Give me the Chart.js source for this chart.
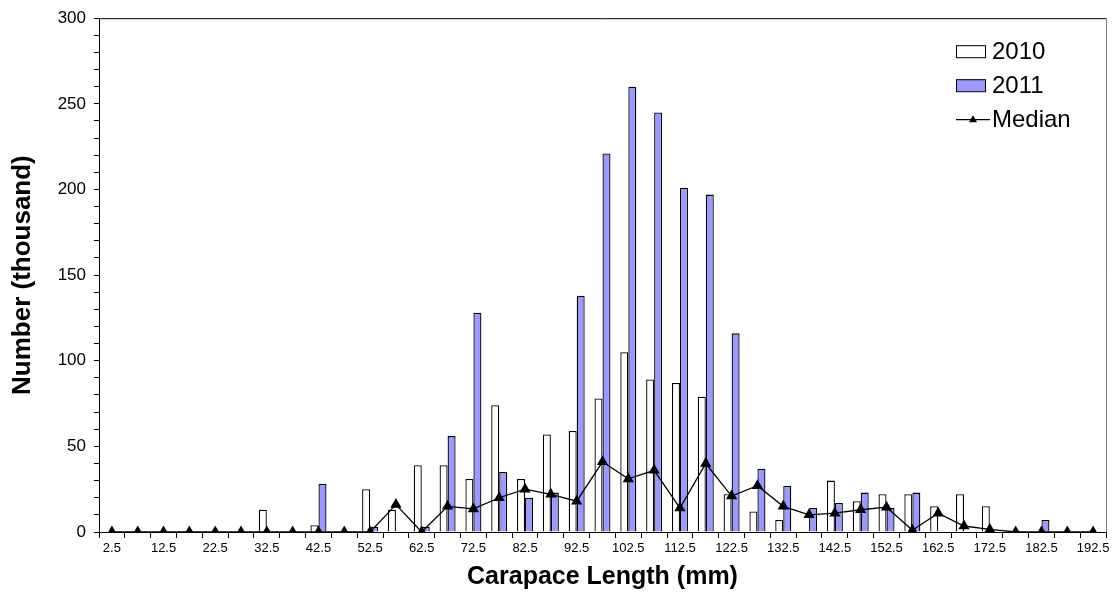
<!DOCTYPE html>
<html>
<head>
<meta charset="utf-8">
<script src="https://cdn.jsdelivr.net/npm/chart.js@4"></script>
<style>
  html, body { margin: 0; padding: 0; background: #fff; }
  #wrap { width: 1120px; height: 602px; position: relative; }
  canvas { display: block; }
</style>
</head>
<body>
<div id="wrap"><canvas id="chart" width="1120" height="602"></canvas></div>
<script>
// carapace length classes (mm)
const lengths = ['2.5','7.5','12.5','17.5','22.5','27.5','32.5','37.5','42.5','47.5',
  '52.5','57.5','62.5','67.5','72.5','77.5','82.5','87.5','92.5','97.5',
  '102.5','107.5','112.5','117.5','122.5','127.5','132.5','137.5','142.5','147.5',
  '152.5','157.5','162.5','167.5','172.5','177.5','182.5','187.5','192.5'];

// numbers in thousands
const counts2010 = [0,0,0,0,0,0,13,0,4,0,
  25,13,39,39,31,74,31,57,59,78,
  105,89,87,79,22,12,7,0,30,18,
  22,22,15,22,15,0,0,0,0];

const counts2011 = [0,0,0,0,0,0,0,0,28,0,
  3,0,3,56,128,35,20,23,138,221,
  260,245,201,197,116,37,27,14,17,23,
  14,23,0,0,0,0,7,0,0];

const median = [0,0,0,0,0,0,0,0,0,0,
  0,16,0,15,13.5,20,25,22,18,41,
  31,36,14,40,21,27,15,10,11,13,
  14.5,1,11,3.5,1.5,0,0,0,0];

const yTicks = [0, 50, 100, 150, 200, 250, 300];

const font = 'Liberation Sans, Arial, sans-serif';

// plot frame (top + right edges)
const framePlugin = {
  id: 'frame',
  afterDraw(chart) {
    const { ctx, chartArea: a } = chart;
    ctx.save();
    ctx.lineWidth = 1;
    ctx.strokeStyle = '#000';
    ctx.beginPath();
    ctx.moveTo(a.left, a.top + 0.5);
    ctx.lineTo(a.right, a.top + 0.5);
    ctx.stroke();
    ctx.strokeStyle = '#808080';
    ctx.beginPath();
    ctx.moveTo(a.right + 0.5, a.top);
    ctx.lineTo(a.right + 0.5, a.bottom);
    ctx.stroke();
    ctx.restore();
  }
};

// legend inside plot, top right
const insideLegend = {
  id: 'insideLegend',
  afterDraw(chart) {
    const { ctx, chartArea: a } = chart;
    const ds = chart.data.datasets;
    const order = [1, 2, 0]; // 2010, 2011, Median
    const x0 = a.right - 150;
    ctx.save();
    ctx.font = '24px ' + font;
    ctx.textBaseline = 'middle';
    ctx.fillStyle = '#000';
    order.forEach((idx, k) => {
      const d = ds[idx];
      const cy = a.top + 33 + k * 34;
      if (d.type === 'line') {
        ctx.strokeStyle = '#000';
        ctx.lineWidth = 1.2;
        ctx.beginPath();
        ctx.moveTo(x0, cy + 0.5);
        ctx.lineTo(x0 + 34, cy + 0.5);
        ctx.stroke();
        ctx.beginPath();
        ctx.moveTo(x0 + 17, cy - 4);
        ctx.lineTo(x0 + 21, cy + 3);
        ctx.lineTo(x0 + 13, cy + 3);
        ctx.closePath();
        ctx.fill();
      } else {
        ctx.fillStyle = d.backgroundColor;
        ctx.fillRect(x0, cy - 6, 30, 12);
        ctx.strokeStyle = '#000';
        ctx.lineWidth = 1;
        ctx.strokeRect(x0 + 0.5, cy - 5.5, 29, 12);
        ctx.fillStyle = '#000';
      }
      ctx.fillText(d.label, x0 + 36, cy + 1);
    });
    ctx.restore();
  }
};

new Chart(document.getElementById('chart'), {
  type: 'bar',
  data: {
    labels: lengths,
    datasets: [
      {
        type: 'line',
        label: 'Median',
        data: median,
        borderColor: '#000',
        borderWidth: 1.3,
        pointStyle: 'triangle',
        pointRadius: 6.5,
        pointBackgroundColor: '#000',
        pointBorderColor: '#000',
        pointBorderWidth: 0,
        tension: 0,
        order: 0
      },
      {
        label: '2010',
        data: counts2010,
        backgroundColor: '#ffffff',
        borderColor: '#000',
        borderWidth: 1.3,
        barPercentage: 1,
        categoryPercentage: 0.62,
        order: 1
      },
      {
        label: '2011',
        data: counts2011,
        backgroundColor: '#9999ff',
        borderColor: '#000',
        borderWidth: 1.3,
        barPercentage: 1,
        categoryPercentage: 0.62,
        order: 1
      }
    ]
  },
  options: {
    responsive: false,
    animation: false,
    devicePixelRatio: 1,
    layout: { padding: { top: 13, right: 14, left: 0, bottom: 0 } },
    plugins: { legend: { display: false }, tooltip: { enabled: false } },
    scales: {
      x: {
        grid: { offset: true, drawOnChartArea: false, color: '#000', tickLength: 6 },
        border: { color: '#000', width: 1 },
        ticks: {
          autoSkip: false, maxRotation: 0, minRotation: 0, padding: 3,
          color: '#000', font: { family: font, size: 13 },
          callback: (v, i) => (i % 2 === 0 ? lengths[i] : '')
        },
        title: {
          display: true, text: 'Carapace Length (mm)', color: '#000',
          font: { family: font, size: 25, weight: 'bold' },
          padding: { top: 0, bottom: 10 }
        },
        afterFit: s => { s.height = 70; }
      },
      y: {
        min: 0, max: 300,
        grid: { drawOnChartArea: false, color: '#000', tickLength: 5 },
        border: { color: '#000', width: 1 },
        ticks: {
          autoSkip: false,
          stepSize: 10, color: '#000', padding: 8,
          font: { family: font, size: 17 },
          callback: v => (yTicks.includes(v) ? v : '')
        },
        title: {
          display: true, text: 'Number (thousand)', color: '#000',
          font: { family: font, size: 26, weight: 'bold' },
          padding: { top: 7, bottom: 0 }
        },
        afterFit: s => { s.width = 99; }
      }
    }
  },
  plugins: [framePlugin, insideLegend]
});
</script>
</body>
</html>
